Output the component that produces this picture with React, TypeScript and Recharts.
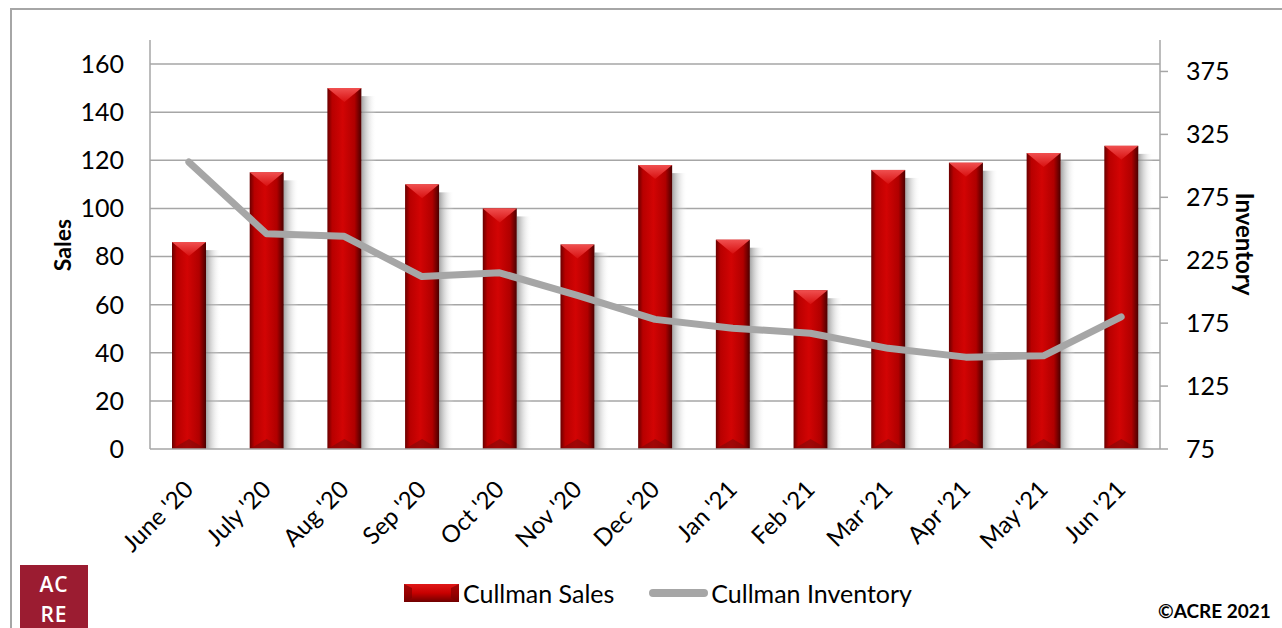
import { ComposedChart, Bar, Line, XAxis, YAxis, ReferenceLine } from "recharts";

const months = [
  "June '20", "July '20", "Aug '20", "Sep '20", "Oct '20", "Nov '20", "Dec '20",
  "Jan '21", "Feb '21", "Mar '21", "Apr '21", "May '21", "Jun '21",
];
const sales = [86, 115, 150, 110, 100, 85, 118, 87, 66, 116, 119, 123, 126];
const inventory = [303, 246, 244, 212, 215, 197, 178, 171, 167, 155, 148, 149, 180];
const salesTicks = [0, 20, 40, 60, 80, 100, 120, 140, 160];
const inventoryTicks = [75, 125, 175, 225, 275, 325, 375];

const data = months.map((month, i) => ({
  month,
  sales: sales[i],
  inventory: inventory[i],
}));

const FONT = "Lato, 'Open Sans', sans-serif";
const GRID = "#A6A6A6";
const LINE = "#A6A6A6";

// bevelled red column with a soft shadow on its right
const BevelBar = (props: any) => {
  const { x, y, width, height } = props;
  if (!height || height <= 0) return null;
  const top = Math.min(14, height / 2);
  const bot = Math.min(10, height / 2);
  return (
    <g>
      <rect x={x + width} y={y + 8} width={15} height={Math.max(0, height - 8)} fill="url(#barShadow)" />
      <rect x={x} y={y} width={width} height={height} fill="url(#barBody)" />
      <polygon points={`${x},${y} ${x + width},${y} ${x + width / 2},${y + top}`} fill="url(#barTop)" />
      <polygon
        points={`${x},${y + height} ${x + width},${y + height} ${x + width / 2},${y + height - bot}`}
        fill="#7a0a0a"
        opacity={0.55}
      />
    </g>
  );
};

const XTick = (props: any) => {
  const { x, y, payload } = props;
  return (
    <g transform={`translate(${x + 6},${y + 34}) rotate(-45)`}>
      <text textAnchor="end" fontSize={24} fontFamily={FONT} fill="#000">
        {payload.value}
      </text>
    </g>
  );
};

function Legend() {
  return (
    <div
      style={{
        position: "absolute",
        left: 404,
        top: 578,
        display: "flex",
        alignItems: "center",
        fontFamily: FONT,
        fontSize: 25,
        color: "#000",
        whiteSpace: "nowrap",
      }}
    >
      <svg width={56} height={20} style={{ marginRight: 3 }}>
        <defs>
          <linearGradient id="legBar" x1="0" y1="0" x2="0" y2="1">
            <stop offset="0%" stopColor="#e01818" />
            <stop offset="50%" stopColor="#c80000" />
            <stop offset="100%" stopColor="#6e0000" />
          </linearGradient>
        </defs>
        <rect x={0} y={1} width={55} height={18} fill="url(#legBar)" />
        <polygon points="0,1 8,5 8,15 0,19" fill="#7a0000" opacity={0.6} />
        <polygon points="55,1 47,5 47,15 55,19" fill="#7a0000" opacity={0.6} />
      </svg>
      <span>Cullman Sales</span>
      <svg width={62} height={20} style={{ marginLeft: 34, marginRight: 1 }}>
        <line x1={5} y1={10} x2={56} y2={10} stroke={LINE} strokeWidth={8} strokeLinecap="round" />
      </svg>
      <span>Cullman Inventory</span>
    </div>
  );
}

export default function App() {
  return (
    <div
      style={{
        position: "fixed",
        left: 0,
        top: 0,
        width: 1282,
        height: 628,
        overflow: "hidden",
        background: "#fff",
      }}
    >
      <div
        style={{
          position: "absolute",
          left: 10,
          top: 8,
          width: 1300,
          height: 660,
          border: "2px solid #A6A6A6",
          boxSizing: "border-box",
        }}
      />
      <ComposedChart
        width={1282}
        height={628}
        data={data}
        margin={{ top: 40, right: 0, bottom: 0, left: 0 }}
        barCategoryGap={0}
        style={{ position: "absolute", left: 0, top: 0 }}
      >
        <defs>
          <linearGradient id="barBody" x1="0" y1="0" x2="1" y2="0">
            <stop offset="0%" stopColor="#6a0000" />
            <stop offset="14%" stopColor="#b80000" />
            <stop offset="45%" stopColor="#d20404" />
            <stop offset="80%" stopColor="#b00000" />
            <stop offset="100%" stopColor="#4a0000" />
          </linearGradient>
          <linearGradient id="barTop" x1="0" y1="0" x2="0" y2="1">
            <stop offset="0%" stopColor="#f05050" />
            <stop offset="100%" stopColor="#d81010" />
          </linearGradient>
          <linearGradient id="barShadow" x1="0" y1="0" x2="1" y2="0">
            <stop offset="0%" stopColor="#8c8c8c" stopOpacity={0.8} />
            <stop offset="100%" stopColor="#ffffff" stopOpacity={0} />
          </linearGradient>
        </defs>
        <XAxis
          dataKey="month"
          height={179}
          interval={0}
          tick={<XTick />}
          tickLine={false}
          axisLine={{ stroke: GRID, strokeWidth: 1.5 }}
        />
        <YAxis
          yAxisId="left"
          width={150}
          domain={[0, 170]}
          ticks={salesTicks}
          tickSize={0}
          tickMargin={26}
          tickLine={false}
          axisLine={{ stroke: GRID, strokeWidth: 1.5 }}
          tick={{ fontSize: 25, fill: "#000", fontFamily: FONT }}
          label={{
            content: () => (
              <text
                x={62}
                y={245}
                transform="rotate(-90, 62, 245)"
                textAnchor="middle"
                dominantBaseline="central"
                fontSize={23}
                fontWeight="bold"
                fontFamily={FONT}
                fill="#000"
              >
                Sales
              </text>
            ),
          }}
        />
        <YAxis
          yAxisId="right"
          orientation="right"
          width={122}
          domain={[75, 400]}
          ticks={inventoryTicks}
          tickSize={8}
          tickMargin={18}
          tickLine={{ stroke: GRID, strokeWidth: 1.5 }}
          axisLine={{ stroke: GRID, strokeWidth: 1.5 }}
          tick={{ fontSize: 25, fill: "#000", fontFamily: FONT, textAnchor: "start" }}
          label={{
            content: () => (
              <text
                x={1245}
                y={244}
                transform="rotate(90, 1245, 244)"
                textAnchor="middle"
                dominantBaseline="central"
                fontSize={24}
                fontWeight="bold"
                fontFamily={FONT}
                fill="#000"
              >
                Inventory
              </text>
            ),
          }}
        />
        {salesTicks.slice(1).map((v) => (
          <ReferenceLine
            key={v}
            yAxisId="left"
            y={v}
            stroke={GRID}
            strokeWidth={1.5}
            zIndex={-50}
          />
        ))}
        <Bar yAxisId="left" dataKey="sales" barSize={34} shape={<BevelBar />} isAnimationActive={false} />
        <Line
          yAxisId="right"
          dataKey="inventory"
          type="linear"
          stroke={LINE}
          strokeWidth={7}
          strokeLinecap="round"
          strokeLinejoin="round"
          dot={false}
          activeDot={false}
          isAnimationActive={false}
        />
      </ComposedChart>
      <Legend />
      <svg
        width={68}
        height={63}
        style={{ position: "absolute", left: 20, top: 565 }}
      >
        <rect x={0} y={0} width={68} height={63} fill="#9B1C31" />
        <text
          x={34}
          y={27}
          textAnchor="middle"
          fill="#fff"
          fontFamily="'Open Sans', sans-serif"
          fontSize={21}
          fontWeight={600}
          letterSpacing={1}
        >
          AC
        </text>
        <text
          x={34}
          y={57}
          textAnchor="middle"
          fill="#fff"
          fontFamily="'Open Sans', sans-serif"
          fontSize={21}
          fontWeight={600}
          letterSpacing={1}
        >
          RE
        </text>
      </svg>
      <div
        style={{
          position: "absolute",
          left: 1158,
          top: 599,
          fontFamily: FONT,
          fontSize: 19,
          fontWeight: "bold",
          color: "#000",
        }}
      >
        ©ACRE 2021
      </div>
    </div>
  );
}
